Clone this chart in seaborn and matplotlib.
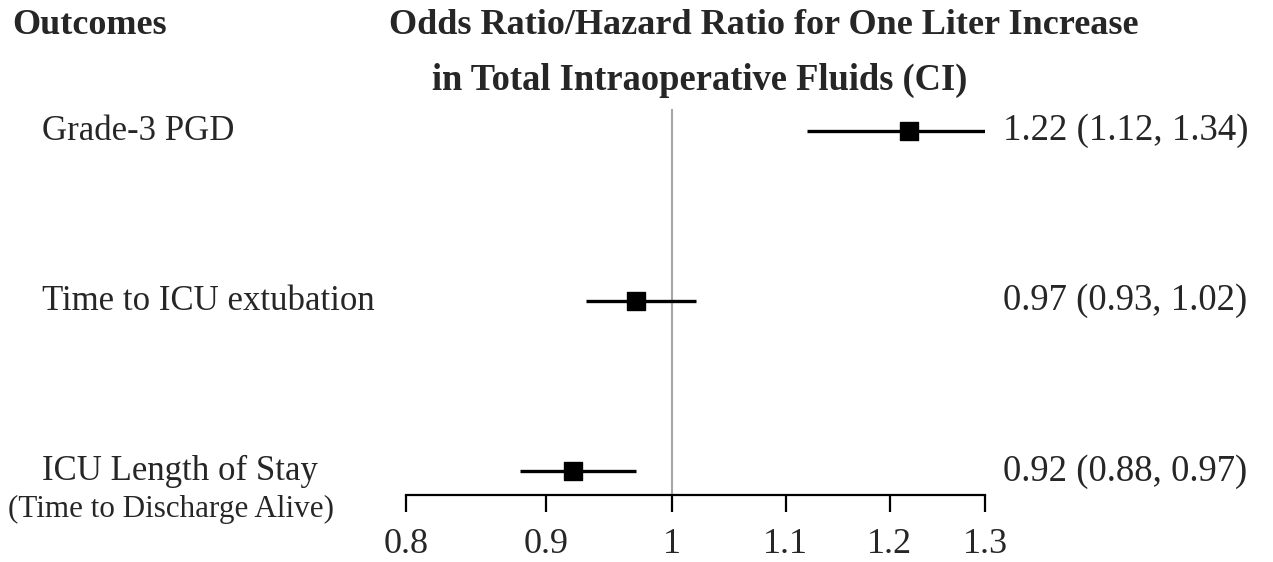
import numpy as np
import pandas as pd
import matplotlib
matplotlib.use("Agg")
import matplotlib.pyplot as plt
import matplotlib.transforms as mtransforms
from matplotlib.ticker import NullLocator
import seaborn as sns

# data
outcomes = ["Grade-3 PGD", "Time to ICU extubation", "ICU Length of Stay"]
estimates = [1.22, 0.97, 0.92]
ci_low = [1.12, 0.93, 0.88]
ci_high = [1.34, 1.02, 0.97]
labels_right = ["1.22 (1.12, 1.34)", "0.97 (0.93, 1.02)", "0.92 (0.88, 0.97)"]
xticks = [0.8, 0.9, 1.0, 1.1, 1.2, 1.3]
xtick_labels = ["0.8", "0.9", "1", "1.1", "1.2", "1.3"]

df = pd.DataFrame({"outcome": outcomes, "est": estimates, "lo": ci_low, "hi": ci_high,
                   "row": np.arange(len(outcomes))})

sns.set_style("white")
plt.rcParams["font.family"] = ["Liberation Serif", "DejaVu Serif"]

fig = plt.figure(figsize=(12.73, 5.62), dpi=100)
ax = fig.add_axes([406 / 1273, 1 - 495 / 562, (985 - 406) / 1273, (495 - 109) / 562])

ax.set_xscale("log")
ax.axvline(1.0, color="#a6a6a6", lw=1.5, zorder=1)
ax.hlines(df["row"], df["lo"], df["hi"], color="black", lw=2.4, zorder=2)
sns.scatterplot(data=df, x="est", y="row", marker="s", s=150, color="black",
                edgecolor="black", ax=ax, zorder=3, legend=False)

ax.set_xlim(0.8, 1.3)
ax.set_ylim(2.14, -0.13)
ax.set_xticks(xticks)
ax.set_xticklabels(xtick_labels, fontsize=26)
ax.xaxis.set_minor_locator(NullLocator())
ax.set_yticks([])
ax.set_xlabel("")
ax.set_ylabel("")
for s in ["top", "right", "left"]:
    ax.spines[s].set_visible(False)
ax.spines["bottom"].set_linewidth(1.6)
ax.spines["bottom"].set_color("black")
ax.tick_params(axis="x", direction="out", length=12.5, width=1.6, color="black", pad=11,
               bottom=True)

# left outcome names and right estimates
row_tr = mtransforms.blended_transform_factory(fig.transFigure, ax.transData)
for i, row in df.iterrows():
    ax.text(42 / 1273, row["row"], row["outcome"], transform=row_tr,
            fontsize=25, va="center", ha="left")
    ax.text(1003 / 1273, row["row"], labels_right[i], transform=row_tr,
            fontsize=26.5, va="center", ha="left")

fig.text(8 / 1273, 1 - 509 / 562, "(Time to Discharge Alive)", fontsize=22.4, va="center", ha="left")

fig.text(12 / 1273, 1 - 25 / 562, "Outcomes", fontsize=26, fontweight="bold", va="center", ha="left")
fig.text(764 / 1273, 1 - 25 / 562, "Odds Ratio/Hazard Ratio for One Liter Increase",
         fontsize=26, fontweight="bold", va="center", ha="center")
fig.text(700 / 1273, 1 - 80 / 562, "in Total Intraoperative Fluids (CI)",
         fontsize=26.3, fontweight="bold", va="center", ha="center")

fig.savefig("out.png", dpi=100, facecolor="white")
